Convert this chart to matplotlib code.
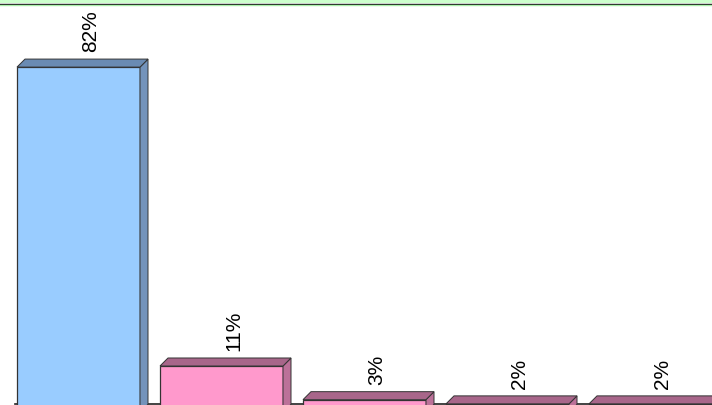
import numpy as np
import matplotlib.pyplot as plt
from matplotlib.patches import Polygon, Rectangle
from matplotlib.lines import Line2D

plt.rcParams['font.family'] = ['Liberation Sans', 'DejaVu Sans']

# chart data
values = [82, 11, 3, 2, 2]
labels = ['82%', '11%', '3%', '2%', '2%']
front_colors = ['#99CCFF', '#FF99CC', '#FF99CC', '#FF99CC', '#FF99CC']
top_colors = ['#6A8BB3', '#A8668A', '#A8668A', '#A8668A', '#A8668A']
side_colors = ['#7393BB', '#BC7199', '#BC7199', '#BC7199', '#BC7199']

fig = plt.figure(figsize=(7.12, 4.05), dpi=100)
ax = fig.add_axes([0, 0, 1, 1])

# scale: 143 px per category, ~4.21 px per percent
px_x = 143.0
px_y = 4.21
W, H = 712, 405
x_left = -78.5 / px_x
ax.set_xlim(x_left, x_left + W / px_x)
y_base_px = 412.3
ax.set_ylim((y_base_px - H) / px_y, y_base_px / px_y)
ax.axis('off')

width = 123 / px_x
dx = 8 / px_x
dy = 8 / px_y
edge = '#333333'

# floor back edge
ax.plot([x_left + 15 / px_x, x_left + W / px_x], [dy, dy], color='#222222', lw=1.2, zorder=1)

x = np.arange(len(values))
ax.bar(x, values, width=width, color=front_colors, edgecolor=edge, linewidth=0.9, zorder=3)
for i, v in enumerate(values):
    x0, x1 = i - width / 2, i + width / 2
    top = Polygon([(x0, v), (x0 + dx, v + dy), (x1 + dx, v + dy), (x1, v)],
                  closed=True, facecolor=top_colors[i], edgecolor=edge, lw=0.7, zorder=3)
    side = Polygon([(x1, 0), (x1 + dx, dy), (x1 + dx, v + dy), (x1, v)],
                   closed=True, facecolor=side_colors[i], edgecolor=edge, lw=0.7, zorder=3)
    ax.add_patch(side)
    ax.add_patch(top)
    ax.text(i + 12 / px_x, v + dy + 7 / px_y, labels[i], rotation=90,
            ha='center', va='bottom', fontsize=15, color='black', zorder=4)

# green band along the top edge
fig.patches.append(Rectangle((0, 1 - 3 / H), 1, 3 / H, transform=fig.transFigure,
                             facecolor='#CCFFCC', edgecolor='none', zorder=5))
fig.lines.append(Line2D([0, 1], [1 - 3.5 / H, 1 - 3.5 / H], transform=fig.transFigure,
                        color='#111111', lw=1.0, zorder=6))
fig.lines.append(Line2D([0, 1], [1 - 4.8 / H, 1 - 4.8 / H], transform=fig.transFigure,
                        color='#AAEEAA', lw=1.0, zorder=6))

fig.savefig('out.png', dpi=100)
